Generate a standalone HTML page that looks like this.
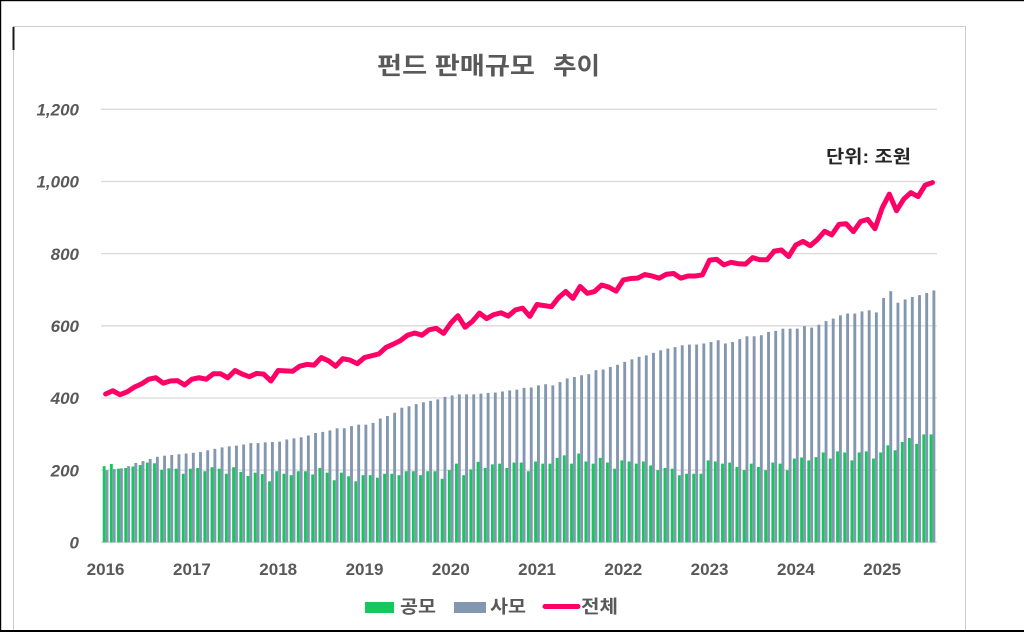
<!DOCTYPE html>
<html>
<head>
<meta charset="utf-8">
<style>
html,body{margin:0;padding:0;background:#fff;width:1024px;height:632px;overflow:hidden}
svg{display:block}
</style>
</head>
<body>
<svg id="c" width="1024" height="632" viewBox="0 0 1024 632" xmlns="http://www.w3.org/2000/svg" font-family="'Liberation Sans','Noto Sans CJK KR',sans-serif">
  <rect x="0" y="0" width="1024" height="632" fill="#fff"/>
  <!-- dotted chart border -->
  <g stroke="#9a9a9a" stroke-width="1" stroke-dasharray="1 1">
    <line x1="13.5" y1="26.5" x2="965.5" y2="26.5"/>
    <line x1="13.5" y1="26.5" x2="13.5" y2="630"/>
    <line x1="965.5" y1="26.5" x2="965.5" y2="630"/>
  </g>
  <rect x="12.5" y="27" width="2" height="23" fill="#1a1a1a"/>
  <!-- outer black frame -->
  <rect x="0" y="0" width="1024" height="1.2" fill="#000"/>
  <rect x="0" y="0" width="1.2" height="632" fill="#000"/>
  <rect x="0" y="630" width="1024" height="2" fill="#000"/>

  <!-- title -->
  <text x="377" y="74" font-size="24" font-weight="bold" fill="#595959" textLength="158" lengthAdjust="spacingAndGlyphs">펀드 판매규모</text>
  <text x="553" y="74" font-size="24" font-weight="bold" fill="#595959" textLength="47" lengthAdjust="spacingAndGlyphs">추이</text>

  <!-- unit -->
  <text x="826" y="163" font-size="18" font-weight="bold" fill="#262626" textLength="85" lengthAdjust="spacingAndGlyphs">단위: 조원</text>

  <!-- gridlines -->
  <g id="grid" stroke="#d9d9d9" stroke-width="1.3"></g>

  <!-- y labels -->
  <g font-size="17" font-weight="bold" font-style="italic" fill="#595959" text-anchor="end">
    <text x="79" y="115.5">1,200</text>
    <text x="79" y="187.7">1,000</text>
    <text x="79" y="259.8">800</text>
    <text x="79" y="332">600</text>
    <text x="79" y="404.2">400</text>
    <text x="79" y="476.4">200</text>
    <text x="79" y="548.5">0</text>
  </g>

  <g id="bars"></g>
  <polyline id="tot" fill="none" stroke="#ff0066" stroke-width="5" stroke-linejoin="round" stroke-linecap="round" points=""/>

  <!-- x labels -->
  <g font-size="17" font-weight="bold" fill="#595959" text-anchor="middle">
    <text x="105.6" y="575">2016</text>
    <text x="191.9" y="575">2017</text>
    <text x="278.2" y="575">2018</text>
    <text x="364.5" y="575">2019</text>
    <text x="450.8" y="575">2020</text>
    <text x="537.1" y="575">2021</text>
    <text x="623.3" y="575">2022</text>
    <text x="709.6" y="575">2023</text>
    <text x="795.9" y="575">2024</text>
    <text x="882.2" y="575">2025</text>
  </g>

  <!-- legend -->
  <rect x="365" y="602" width="29" height="11" fill="#16c85c"/>
  <text x="400" y="613" font-size="18" font-weight="bold" fill="#595959" textLength="36" lengthAdjust="spacingAndGlyphs">공모</text>
  <rect x="454" y="602" width="32" height="11" fill="#8497b0"/>
  <text x="490" y="613" font-size="18" font-weight="bold" fill="#595959" textLength="36" lengthAdjust="spacingAndGlyphs">사모</text>
  <line x1="545" y1="606.5" x2="578" y2="606.5" stroke="#ff0066" stroke-width="5" stroke-linecap="round"/>
  <text x="581" y="613" font-size="18" font-weight="bold" fill="#595959" textLength="37" lengthAdjust="spacingAndGlyphs">전체</text>
</svg>
<script>
(function(){
  var NS="http://www.w3.org/2000/svg";
  var gray=[200,203,205,211,220,225,231,237,240,242,244,246,248,250,255,259,263,266,268,271,275,275,277,278,279,285,288,291,296,
  303,306,310,316,316,322,326,326,331,343,350,359,373,377,383,388,392,396,403,407,410,410,410,412,414,415,418,421,423,428,
  429,435,438,435,444,454,458,463,466,477,479,486,492,500,507,514,518,525,532,537,541,546,548,548,551,555,560,551,555,
  563,571,571,574,583,586,592,592,592,599,595,603,613,620,629,634,634,640,643,637,677,696,664,673,680,685,691,698];
  var green=[211,217,204,206,210,214,221,219,201,205,204,190,204,206,197,208,204,190,208,195,184,193,189,169,197,190,186,197,197,
  188,206,193,172,193,183,169,186,186,179,190,190,186,197,197,186,197,197,176,200,218,186,202,223,206,216,218,206,221,221,
  197,224,218,218,234,241,218,246,224,218,234,221,204,227,224,218,224,213,200,206,204,186,190,190,190,227,224,218,221,
  209,200,218,209,200,221,218,200,232,235,227,236,249,232,252,249,227,249,252,232,249,269,255,278,289,273,299,299];
  var X0=102, W=7.19, Y0=542.3, K=0.36083, B=2.88;
  var grid=document.getElementById('grid');
  for(var k=0;k<=6;k++){
    var y=Y0-k*200*K;
    var l=document.createElementNS(NS,'line');
    l.setAttribute('x1',101);l.setAttribute('x2',937);
    l.setAttribute('y1',y.toFixed(2));l.setAttribute('y2',y.toFixed(2));
    grid.appendChild(l);
  }
  var bars=document.getElementById('bars');
  var pts=[];
  for(var i=0;i<gray.length;i++){
    var c=X0+(i+0.5)*W;
    var hg=green[i]*K, hs=gray[i]*K;
    var r1=document.createElementNS(NS,'rect');
    r1.setAttribute('x',(c-B).toFixed(2));r1.setAttribute('y',(Y0-hg).toFixed(2));
    r1.setAttribute('width',B);r1.setAttribute('height',hg.toFixed(2));
    r1.setAttribute('fill','#16c85c');
    bars.appendChild(r1);
    var r2=document.createElementNS(NS,'rect');
    r2.setAttribute('x',c.toFixed(2));r2.setAttribute('y',(Y0-hs).toFixed(2));
    r2.setAttribute('width',B);r2.setAttribute('height',hs.toFixed(2));
    r2.setAttribute('fill','#8497b0');
    bars.appendChild(r2);
    pts.push(c.toFixed(2)+','+(Y0-(green[i]+gray[i])*K).toFixed(2));
  }
  document.getElementById('tot').setAttribute('points',pts.join(' '));
})();
</script>
</body>
</html>
